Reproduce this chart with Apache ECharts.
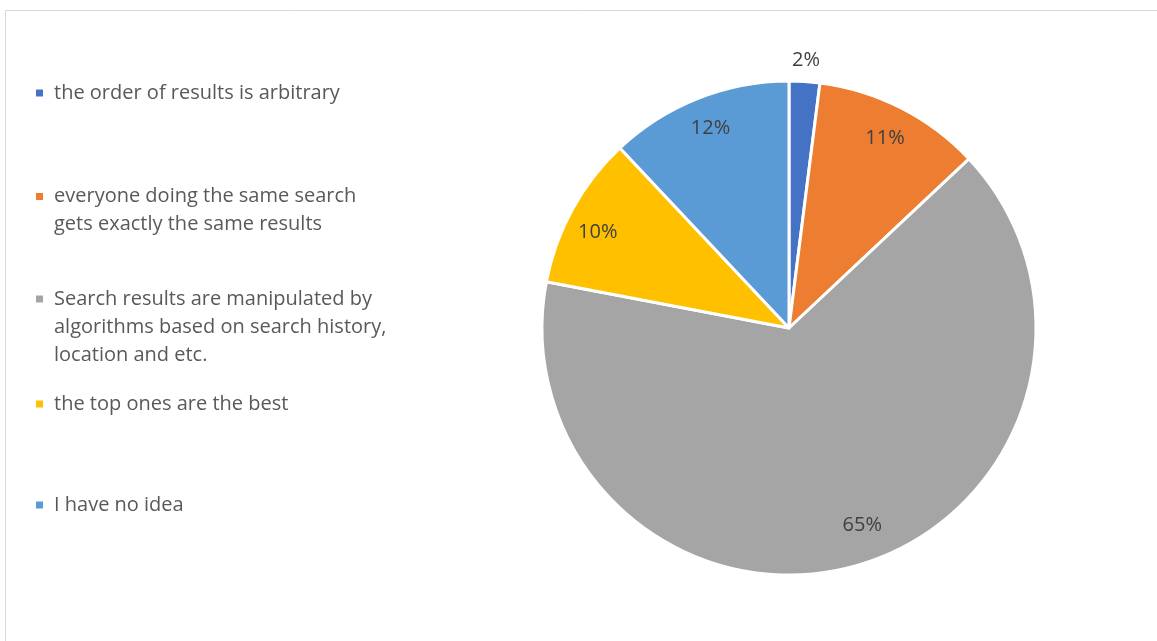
<!DOCTYPE html>
<html>
<head>
<meta charset="utf-8">
<script src="https://cdn.jsdelivr.net/npm/echarts@6/dist/echarts.min.js"></script>
<style>
html,body{margin:0;padding:0;background:#fff;}
#chart{width:1157px;height:641px;}
</style>
</head>
<body>
<div id="chart"></div>
<script>
const categories = [
  "the order of results is arbitrary",
  "everyone doing the same search gets exactly the same results",
  "Search results are manipulated by algorithms based on search history, location and etc.",
  "the top ones are the best",
  "I have no idea"
];
const legendLines = [
  ["the order of results is arbitrary"],
  ["everyone doing the same search", "gets exactly the same results"],
  ["Search results are manipulated by", "algorithms based on search history,", "location and etc."],
  ["the top ones are the best"],
  ["I have no idea"]
];
const values = [2, 11, 65, 10, 12];
const colors = ["#4472C4", "#ED7D31", "#A5A5A5", "#FFC000", "#5B9BD5"];

const FONT = "Open Sans";
const FS = 20;
const LH = 28;
const CENTER = [789, 328];
const R = 247;

const pieData = categories.map((c, i) => ({ name: c, value: values[i], itemStyle: { color: colors[i] } }));

// vertical centre of each legend marker (layout)
const legendCenters = [93, 196.5, 299, 404, 505];
const legends = categories.map((c, i) => {
  const n = legendLines[i].length;
  const blanks = new Array(n - 1).fill(' ');
  return {
    data: [c],
    left: 36,
    top: legendCenters[i] - (2 * n - 1) * LH / 2,
    padding: 0,
    orient: 'vertical',
    icon: 'rect',
    itemWidth: 7,
    itemHeight: 7,
    itemStyle: { borderWidth: 0 },
    selectedMode: false,
    formatter: () => blanks.concat(legendLines[i]).join('\n'),
    textStyle: {
      fontFamily: FONT,
      fontSize: FS,
      color: '#595959',
      lineHeight: LH,
      padding: [0, 0, 0, 6]
    }
  };
});

const labelStyle = { fontFamily: FONT, fontSize: FS, color: '#404040' };
const labelOffsets = [[0, 3], [-2, 3], [13, -10], [-2, 8], [1, 1]];

const option = {
  backgroundColor: '#fff',
  animation: false,
  color: colors,
  legend: legends,
  graphic: [{
    type: 'rect',
    shape: { x: 5.5, y: 10.5, width: 1160, height: 640 },
    style: { fill: 'none', stroke: '#D9D9D9', lineWidth: 1 },
    silent: true
  }],
  series: [
    {
      type: 'pie',
      center: CENTER,
      radius: R,
      startAngle: 90,
      clockwise: true,
      percentPrecision: 0,
      data: pieData,
      itemStyle: { borderColor: '#fff', borderWidth: 3 },
      label: { show: false },
      labelLine: { show: false },
      emphasis: { disabled: true }
    },
    {
      type: 'pie',
      center: CENTER,
      radius: [180, 246],
      startAngle: 90,
      clockwise: true,
      percentPrecision: 0,
      silent: true,
      z: 3,
      data: pieData.map((d, i) => ({ name: d.name, value: d.value, label: { show: i !== 0, offset: labelOffsets[i] } })),
      itemStyle: { color: 'rgba(0,0,0,0)', borderWidth: 0 },
      label: Object.assign({ show: true, position: 'inside', formatter: '{d}%' }, labelStyle),
      labelLine: { show: false },
      emphasis: { disabled: true }
    },
    {
      type: 'pie',
      center: CENTER,
      radius: [258, 278],
      startAngle: 90,
      clockwise: true,
      percentPrecision: 0,
      silent: true,
      z: 3,
      data: pieData.map((d, i) => ({ name: d.name, value: d.value, label: { show: i === 0, offset: labelOffsets[i] } })),
      itemStyle: { color: 'rgba(0,0,0,0)', borderWidth: 0 },
      label: Object.assign({ show: true, position: 'inside', formatter: '{d}%' }, labelStyle),
      labelLine: { show: false },
      emphasis: { disabled: true }
    }
  ]
};

const chart = echarts.init(document.getElementById('chart'), null, { renderer: 'canvas' });
chart.setOption(option);
</script>
</body>
</html>
